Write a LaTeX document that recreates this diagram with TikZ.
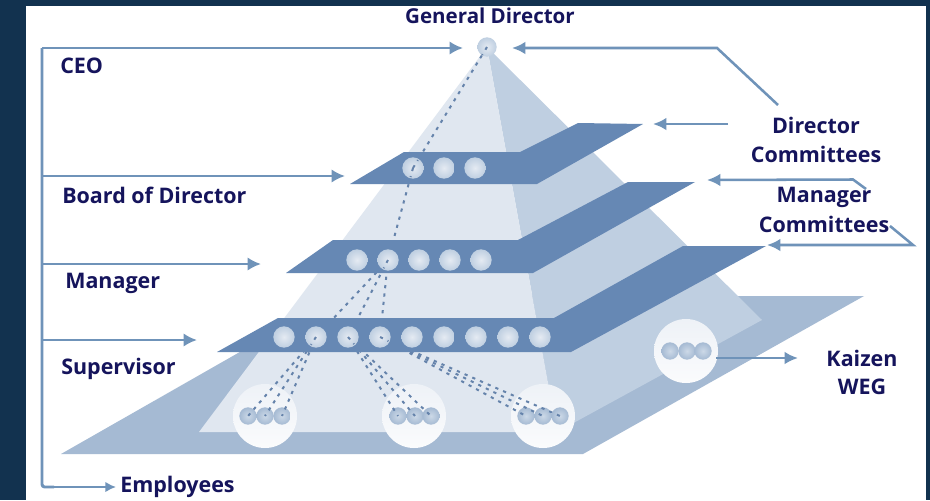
\documentclass[tikz,border=0pt]{standalone}
\usepackage{fontspec}
\setmainfont{Open Sans}
\usetikzlibrary{arrows.meta,calc}
\definecolor{bgnavy}{HTML}{12324F}
\definecolor{basecol}{HTML}{A5BAD3}
\definecolor{frontcol}{HTML}{E0E7F0}
\definecolor{rightcol}{HTML}{BFCFE1}
\definecolor{platecol}{HTML}{6688B4}
\definecolor{linecol}{HTML}{6F93B9}
\definecolor{dashcol}{HTML}{6583AB}
\definecolor{textcol}{HTML}{15145C}
\pgfdeclarelayer{bglayer}
\pgfdeclarelayer{dashlayer}
\pgfdeclarelayer{platelayer}
\pgfsetlayers{bglayer,dashlayer,platelayer,main}
\tikzset{
  x=0.75pt,y=-0.75pt,
  ball/.style={circle,minimum size=16pt,inner sep=0pt,shading=radial,inner color=frontcol!85!white,outer color=rightcol},
  smallball/.style={circle,minimum size=13pt,inner sep=0pt,shading=radial,inner color=rightcol!60!frontcol,outer color=basecol},
  bigcircle/.style={circle,minimum size=48pt,inner sep=0pt,shading=axis,top color=frontcol!55!white,bottom color=frontcol!15!white,shading angle=0},
  arrowline/.style={draw=linecol,line width=2.2pt,-{Latex[length=10pt,width=10pt]}},
  thinarrow/.style={draw=linecol,line width=1.9pt,-{Latex[length=10pt,width=9.5pt]}},
  dashline/.style={draw=dashcol,line width=1.5pt,dash pattern=on 2.4pt off 3.9pt},
  lbl/.style={font=\bfseries\fontsize{16.1}{18}\selectfont,text=textcol,inner sep=0pt,anchor=base},
  lblw/.style={lbl,anchor=base west},
  platefill/.style={fill=platecol,draw=none}
}
\begin{document}
\begin{tikzpicture}
\useasboundingbox (0,0) rectangle (930,500);
\begin{pgfonlayer}{bglayer}
\fill[bgnavy] (0,0) rectangle (930,500);
\fill[white] (26,6) rectangle (926,500);
\fill[basecol] (61,454) -- (583,454) -- (864,296) -- (338,296) -- cycle;
\fill[rightcol] (487,47) -- (557,432) -- (762,320) -- cycle;
\fill[frontcol] (487,47) -- (199,432) -- (557,432) -- cycle;
\node[bigcircle] (c1) at (265,416) {};
\node[bigcircle] (c2) at (414,416) {};
\node[bigcircle] (c3) at (543,416) {};
\node[bigcircle] (c4) at (686,351) {};
\foreach \i/\x in {1/248,2/265,3/282} \node[smallball] (sa\i) at (\x,416) {};
\foreach \i/\x in {1/398,2/415,3/431} \node[smallball] (sb\i) at (\x,416) {};
\foreach \i/\x in {1/526,2/543,3/560} \node[smallball] (sc\i) at (\x,416) {};
\foreach \i/\x in {1/670,2/687,3/703} \node[smallball] (sd\i) at (\x,351) {};
\end{pgfonlayer}
\begin{pgfonlayer}{platelayer}
\fill[platefill] (350,184) -- (404,152) -- (520,152) -- (578,123) -- (643,124) -- (537,184) -- cycle;
\fill[platefill] (286,273) -- (333,240) -- (518,240) -- (628,182) -- (695,182) -- (533,273) -- cycle;
\fill[platefill] (217,352) -- (278,318) -- (554,318) -- (683,246) -- (766,246) -- (571,352) -- cycle;
\end{pgfonlayer}
% balls
\node[ball,minimum size=14.5pt] (apex) at (487,47) {};
\foreach \i/\x in {1/413,2/444,3/475} \node[ball] (t\i) at (\x,168) {};
\foreach \i/\x in {1/357,2/388,3/419,4/450,5/481} \node[ball] (m\i) at (\x,260) {};
\foreach \i/\x in {1/284,2/316,3/348,4/380,5/412,6/444,7/476,8/508,9/540} \node[ball] (b\i) at (\x,337) {};
\begin{pgfonlayer}{dashlayer}
\draw[dashline] (apex) -- (t1.center);
\draw[dashline] (t1.center) -- (m2.center);
\foreach \e in {b2,b3,b4} \draw[dashline] (m2.center) -- (\e.center);
\foreach \e in {sa1,sa2,sa3} \draw[dashline] (b2.center) -- (\e.center);
\foreach \e in {sb1,sb2,sb3} \draw[dashline] (b3.center) -- (\e.center);
\foreach \e in {sc1,sc2,sc3} \draw[dashline] (b4.center) -- (\e.center);
\end{pgfonlayer}
% dash marks that show across the balls
\draw[dashline] (t1.center) -- ($(t1.center)!7pt!(apex)$);
\draw[dashline] (t1.center) -- ($(t1.center)!7pt!(m2)$);
\draw[dashline] (apex.center) -- ($(apex.center)!7pt!(t1)$);
\draw[dashline] (m2.center) -- ($(m2.center)!7pt!(b3)$);
\draw[dashline] (b2.center) -- ($(b2.center)!7pt!(sa2)$);
\draw[dashline] (b3.center) -- ($(b3.center)!7pt!(sb2)$);
\draw[dashline] (b4.center) -- ($(b4.center)!7pt!(sc2)$);
% labels
\node[lbl,font=\bfseries\fontsize{15.4}{18}\selectfont] (gd) at (490,23) {General Director};
\node[lblw] (ceo) at (60,73) {CEO};
\node[lblw] (bod) at (62,203) {Board of Director};
\node[lblw] (mgr) at (65,288) {Manager};
\node[lblw] (sup) at (61,374) {Supervisor};
\node[lblw] (emp) at (120,492) {Employees};
\node[lbl] (dir) at (816,133) {Director};
\node[lbl] (dcom) at (816,162) {Committees};
\node[lbl] (mg2) at (824,202) {Manager};
\node[lbl] (mcom) at (824,232) {Committees};
\node[lbl] (kai) at (862,366) {Kaizen};
\node[lbl] (weg) at (862,394) {WEG};
% left spine
\coordinate (sptop) at (42,48);
\coordinate (spb) at (42,176);
\coordinate (spm) at (42,264);
\coordinate (sps) at (42,340);
\coordinate (spe) at (42,487);
\coordinate (toapex) at (463,48);
\coordinate (toboard) at (345,176);
\coordinate (tomgr) at (261,264);
\coordinate (tosup) at (197,340);
\coordinate (toemp) at (116,487);
\draw[arrowline] (sptop) -- (toapex);
\draw[draw=linecol,line width=2.2pt,rounded corners=2pt] (sptop) -- (spe) -- ++(12,0);
\draw[draw=linecol,line width=1.8pt,-{Latex[length=8pt,width=8pt]}] (spe) ++(10,0) -- (toemp);
\draw[arrowline] (spb) -- (toboard);
\draw[arrowline] (spm) -- (tomgr);
\draw[arrowline] (sps) -- (tosup);
% right side
\coordinate (r1a) at (778,105);
\coordinate (r1b) at (717,48);
\coordinate (r1c) at (512,48);
\draw[thinarrow] (r1a) -- (r1b) -- (r1c);
\coordinate (r2a) at (728,124);
\coordinate (r2b) at (653,124);
\draw[thinarrow] (r2a) -- (r2b);
\coordinate (r3a) at (866,189);
\coordinate (r3b) at (853,179.5);
\coordinate (r3c) at (707,180);
\draw[thinarrow] (r3a) -- (r3b) -- (r3c);
\coordinate (r4a) at (890,226);
\coordinate (r4b) at (913,245);
\coordinate (r4c) at (767,245);
\draw[thinarrow] (r4a) -- (r4b) -- (r4c);
\coordinate (kaifrom) at (716,358);
\coordinate (kaito) at (798,358);
\draw[thinarrow] (kaifrom) -- (kaito);
\end{tikzpicture}
\end{document}
